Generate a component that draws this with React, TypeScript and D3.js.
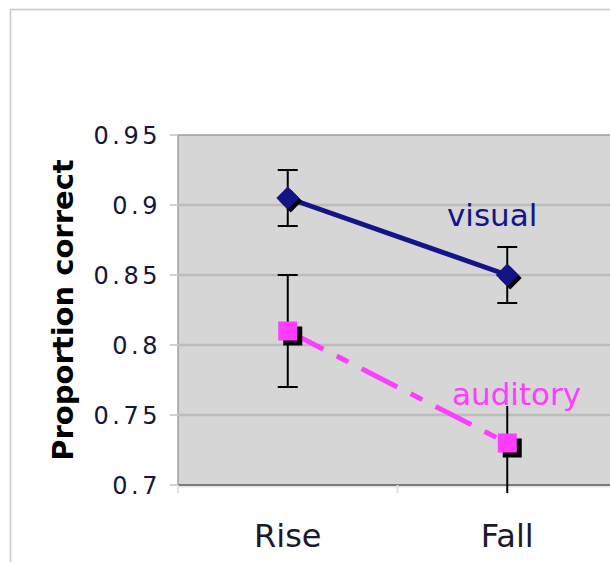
import React from "react";
import * as d3 from "d3";

const categories = ["Rise", "Fall"];
const visualValues = [0.905, 0.85];
const visualErrors = [0.02, 0.02];
const auditoryValues = [0.81, 0.73];
const auditoryErrors = [0.04, 0.04];
const yTicks = [0.7, 0.75, 0.8, 0.85, 0.9, 0.95];

const W = 610, H = 562;
const plot = { left: 178, top: 135, right: 617, bottom: 485 };

export default function App() {
  const x = d3.scaleBand().domain(categories).range([plot.left, plot.right]);
  const y = d3.scaleLinear().domain([0.7, 0.95]).range([plot.bottom, plot.top]);
  const cx = (c: string) => (x(c) as number) + x.bandwidth() / 2;

  const line = d3.line<number>().x((_, i) => cx(categories[i])).y(d => y(d));
  const square = (size: number) => d3.symbol(d3.symbolSquare, size)() as string;

  const series = [
    { name: "visual", values: visualValues, errors: visualErrors, color: "#141489", dash: "none", marker: "diamond" },
    { name: "auditory", values: auditoryValues, errors: auditoryErrors, color: "#ff3cff", dash: "40 15 13 15", marker: "square" },
  ];

  // boundaries between categories, for the small x ticks
  const xBounds = [plot.left, ...categories.slice(1).map(c => x(c) as number)];

  return (
    <svg width={W} height={H} style={{ position: "absolute", left: 0, top: 0, background: "#fff" }}
      fontFamily="'DejaVu Sans', Verdana, sans-serif">
      <defs>
        <clipPath id="errClip">
          <rect x={plot.left} y={plot.top - 10} width={plot.right - plot.left} height={plot.bottom - plot.top + 18} />
        </clipPath>
      </defs>
      <rect x={10.5} y={9.5} width={700} height={700} fill="#fff" stroke="#c8c8c8" strokeWidth={1.5} />

      {/* plot area */}
      <rect x={plot.left} y={plot.top} width={plot.right - plot.left} height={plot.bottom - plot.top} fill="#d6d6d6" stroke="#8c8c8c" strokeWidth={1.2} />
      {yTicks.slice(1, -1).map(t => (
        <line key={t} x1={plot.left} x2={plot.right} y1={y(t)} y2={y(t)} stroke="#bcbcbc" strokeWidth={2.5} />
      ))}
      {yTicks.map(t => (
        <line key={"tk" + t} x1={plot.left - 8} x2={plot.left} y1={y(t)} y2={y(t)} stroke="#d0d0d0" strokeWidth={2} />
      ))}
      <line x1={plot.left} x2={plot.right} y1={plot.bottom + 1.5} y2={plot.bottom + 1.5} stroke="#e4e4e4" strokeWidth={2} />
      <line x1={plot.left} x2={plot.right} y1={plot.bottom} y2={plot.bottom} stroke="#7a7a7a" strokeWidth={2} />
      {xBounds.map(b => (
        <line key={b} x1={b} x2={b} y1={plot.bottom} y2={plot.bottom + 8} stroke="#e0e0e0" strokeWidth={2} />
      ))}

      {/* y tick labels */}
      {yTicks.map(t => (
        <text key={"l" + t} x={161} y={y(t) + 9} textAnchor="end" fontSize={24} letterSpacing={3.5} fill="#16163a">
          {String(t)}
        </text>
      ))}
      <text transform={`translate(73,${(plot.top + plot.bottom) / 2}) rotate(-90)`} textAnchor="middle"
        fontSize={29} fontWeight="bold" fill="#000">Proportion correct</text>

      {/* x labels */}
      {categories.map(c => (
        <text key={c} x={cx(c)} y={547} textAnchor="middle" fontSize={32} fill="#1a1a2a">{c}</text>
      ))}

      {/* error bars */}
      <g clipPath="url(#errClip)">
        {series.map(s => s.values.map((v, i) => {
          const px = cx(categories[i]);
          const hi = y(v + s.errors[i]), lo = y(v - s.errors[i]);
          return (
            <g key={s.name + i} stroke="#000" strokeWidth={2}>
              <line x1={px} x2={px} y1={hi} y2={lo} />
              <line x1={px - 10} x2={px + 10} y1={hi} y2={hi} />
              <line x1={px - 10} x2={px + 10} y1={lo} y2={lo} />
            </g>
          );
        }))}
      </g>

      {/* lines and markers */}
      {series.map(s => (
        <g key={s.name}>
          <path d={line(s.values) as string} fill="none" stroke={s.color} strokeWidth={5} strokeDasharray={s.dash} />
          {s.values.map((v, i) => {
            const px = cx(categories[i]), py = y(v);
            if (s.marker === "diamond") {
              return (
                <g key={i}>
                  <path d={square(260)} transform={`translate(${px + 3},${py + 3}) rotate(45)`} fill="#000" />
                  <path d={square(260)} transform={`translate(${px},${py}) rotate(45)`} fill={s.color} />
                </g>
              );
            }
            return (
              <g key={i}>
                <path d={square(361)} transform={`translate(${px + 5},${py + 5})`} fill="#000" />
                <path d={square(361)} transform={`translate(${px},${py})`} fill={s.color} />
              </g>
            );
          })}
        </g>
      ))}

      {/* series labels */}
      <rect x={450} y={386} width={134} height={20} fill="#d6d6d6" />
      <text x={447} y={226} fontSize={31} fill="#141489">visual</text>
      <text x={452} y={405} fontSize={31} fill="#ff3cff">auditory</text>
    </svg>
  );
}
